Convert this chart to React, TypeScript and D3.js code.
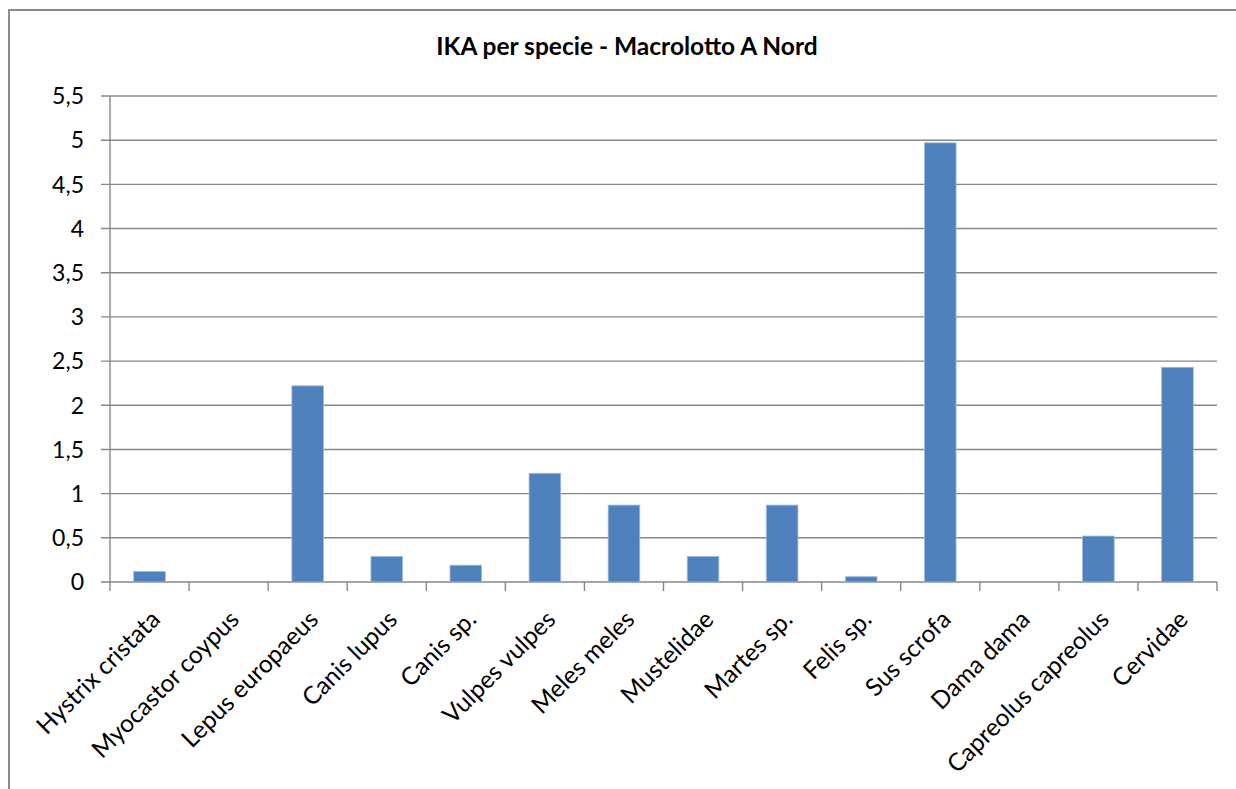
import { useEffect, useRef } from 'react';
import * as d3 from 'd3';

const categories = [
  'Hystrix cristata',
  'Myocastor coypus',
  'Lepus europaeus',
  'Canis lupus',
  'Canis sp.',
  'Vulpes vulpes',
  'Meles meles',
  'Mustelidae',
  'Martes sp.',
  'Felis sp.',
  'Sus scrofa',
  'Dama dama',
  'Capreolus capreolus',
  'Cervidae',
];

const ikaValues = [0.12, 0, 2.22, 0.29, 0.19, 1.23, 0.87, 0.29, 0.87, 0.06, 4.97, 0, 0.52, 2.43];

const yTicks = [0, 0.5, 1, 1.5, 2, 2.5, 3, 3.5, 4, 4.5, 5, 5.5];

const FONT = 'Lato, "Open Sans", sans-serif';

export default function App() {
  const svgRef = useRef<SVGSVGElement>(null);

  useEffect(() => {
    if (!svgRef.current) return;
    const svg = d3.select(svgRef.current);
    svg.selectAll('*').remove();

    const plot = { left: 110, right: 1217, top: 96, bottom: 582 };
    const gridColor = '#878787';

    // outer chart frame (right and bottom run off the picture)
    svg.append('path')
      .attr('d', 'M9,800 L9,10 L1250,10')
      .attr('fill', 'none')
      .attr('stroke', '#8c8c8c')
      .attr('stroke-width', 2);

    const x = d3.scaleBand<string>()
      .domain(categories)
      .range([plot.left, plot.right])
      .paddingInner(0.6)
      .paddingOuter(0.3);

    const y = d3.scaleLinear()
      .domain([0, 5.5])
      .range([plot.bottom, plot.top]);

    // horizontal grid lines + y ticks
    svg.append('g')
      .selectAll('line')
      .data(yTicks)
      .join('line')
      .attr('x1', plot.left - 9)
      .attr('x2', plot.right)
      .attr('y1', d => y(d))
      .attr('y2', d => y(d))
      .attr('stroke', gridColor)
      .attr('stroke-width', 1.4);

    svg.append('g')
      .selectAll('text')
      .data(yTicks)
      .join('text')
      .attr('x', 84)
      .attr('y', d => y(d))
      .attr('dy', '0.36em')
      .attr('text-anchor', 'end')
      .style('font-family', FONT)
      .style('font-size', '23px')
      .attr('fill', '#000')
      .text(d => d3.format('.1~f')(d).replace('.', ','));

    // y axis line
    svg.append('line')
      .attr('x1', plot.left)
      .attr('x2', plot.left)
      .attr('y1', plot.top)
      .attr('y2', plot.bottom)
      .attr('stroke', gridColor)
      .attr('stroke-width', 1.4);

    // x category tick marks
    const step = x.step();
    const tickXs = d3.range(categories.length + 1).map(i => plot.left + i * step);
    svg.append('g')
      .selectAll('line')
      .data(tickXs)
      .join('line')
      .attr('x1', d => d)
      .attr('x2', d => d)
      .attr('y1', plot.bottom)
      .attr('y2', plot.bottom + 9)
      .attr('stroke', gridColor)
      .attr('stroke-width', 1.4);

    // bars
    svg.append('g')
      .selectAll('rect')
      .data(ikaValues)
      .join('rect')
      .attr('x', (_, i) => x(categories[i]) || 0)
      .attr('width', x.bandwidth())
      .attr('y', d => y(d))
      .attr('height', d => plot.bottom - y(d))
      .attr('fill', '#4f81bd')
      .attr('stroke', '#9fbbdd')
      .attr('stroke-width', d => (d > 0 ? 0.8 : 0));

    // rotated category labels
    svg.append('g')
      .selectAll('text')
      .data(categories)
      .join('text')
      .attr('transform', d => {
        const cx = (x(d) || 0) + x.bandwidth() / 2;
        return `translate(${cx + 12},${621}) rotate(-45)`;
      })
      .attr('text-anchor', 'end')
      .style('font-family', FONT)
      .style('font-size', '24.5px')
      .attr('fill', '#000')
      .text(d => d);

    // title
    svg.append('text')
      .attr('x', 627)
      .attr('y', 55)
      .attr('text-anchor', 'middle')
      .style('font-family', FONT)
      .style('font-size', '24.5px')
      .style('font-weight', 'bold')
      .attr('fill', '#000')
      .text('IKA per specie - Macrolotto A Nord');
  }, []);

  return (
    <svg
      ref={svgRef}
      width={1236}
      height={789}
      style={{ position: 'absolute', left: 0, top: 0, background: '#fff' }}
    />
  );
}
